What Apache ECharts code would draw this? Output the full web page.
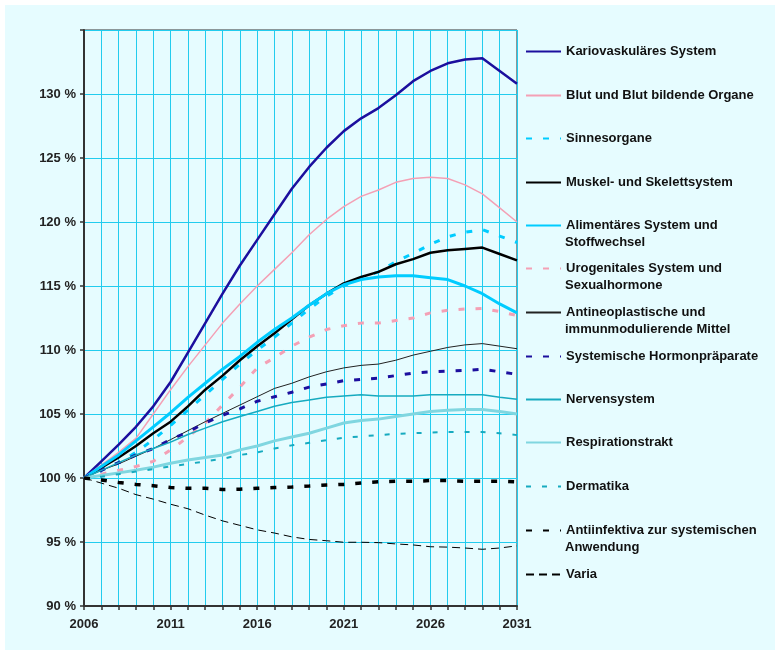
<!DOCTYPE html>
<html>
<head>
<meta charset="utf-8">
<script src="https://cdn.jsdelivr.net/npm/echarts@6/dist/echarts.min.js"></script>
<style>
  html, body { margin: 0; padding: 0; background: #fff; }
  #chart { width: 780px; height: 654px; }
</style>
</head>
<body>
<div id="chart"></div>
<script>
const years = ['2006', '2007', '2008', '2009', '2010', '2011', '2012', '2013', '2014', '2015', '2016', '2017', '2018',
  '2019', '2020', '2021', '2022', '2023', '2024', '2025', '2026', '2027', '2028', '2029', '2030', '2031']

const kario = [100, 101.3, 102.6, 104.0, 105.6, 107.5, 109.8, 112.1, 114.4, 116.6, 118.6, 120.6, 122.6,
  124.3, 125.8, 127.1, 128.1, 128.9, 129.9, 131.0, 131.8, 132.4, 132.7, 132.8, 131.8, 130.8]
const blut = [100, 101.0, 102.0, 103.1, 105.0, 106.9, 108.7, 110.4, 112.1, 113.6, 115.0, 116.3, 117.6,
  119.0, 120.2, 121.2, 122.0, 122.5, 123.1, 123.4, 123.5, 123.4, 122.9, 122.2, 121.1, 120.0]
const sinne = [100, 100.6, 101.2, 102.0, 103.0, 104.1, 105.3, 106.5, 107.7, 108.9, 110.0, 111.0, 112.1,
  113.2, 114.2, 115.0, 115.6, 116.1, 116.9, 117.55, 118.25, 118.85, 119.2, 119.4, 118.9, 118.4]
const muskel = [100, 100.8, 101.6, 102.5, 103.5, 104.4, 105.6, 106.9, 108.0, 109.2, 110.3, 111.3, 112.4,
  113.5, 114.4, 115.2, 115.7, 116.1, 116.7, 117.1, 117.6, 117.8, 117.9, 118.0, 117.5, 117.0]
const alim = [100, 100.9, 101.8, 102.9, 104.0, 105.1, 106.3, 107.4, 108.5, 109.5, 110.6, 111.6, 112.5,
  113.5, 114.4, 115.1, 115.5, 115.7, 115.8, 115.8, 115.65, 115.5, 115.0, 114.4, 113.6, 112.9]
const urog = [100, 100.3, 100.6, 100.9, 101.3, 102.2, 103.2, 104.3, 105.7, 107.1, 108.6, 109.4, 110.3,
  111.0, 111.6, 111.9, 112.1, 112.1, 112.3, 112.5, 112.9, 113.1, 113.2, 113.25, 113.0, 112.7]
const antineo = [100, 100.6, 101.1, 101.7, 102.3, 103.0, 103.7, 104.4, 105.05, 105.7, 106.35, 107.0, 107.4,
  107.9, 108.3, 108.6, 108.8, 108.9, 109.2, 109.6, 109.9, 110.2, 110.4, 110.5, 110.3, 110.1]
const hormon = [100, 100.6, 101.2, 101.8, 102.3, 103.0, 103.6, 104.3, 104.9, 105.4, 106.0, 106.35, 106.7,
  107.1, 107.35, 107.6, 107.7, 107.8, 108.0, 108.2, 108.3, 108.35, 108.4, 108.5, 108.3, 108.1]
const nerven = [100, 100.6, 101.2, 101.8, 102.3, 102.8, 103.4, 103.9, 104.4, 104.8, 105.2, 105.6, 105.9,
  106.1, 106.3, 106.4, 106.5, 106.4, 106.4, 106.4, 106.5, 106.5, 106.5, 106.5, 106.3, 106.15]
const resp = [100, 100.2, 100.4, 100.6, 100.85, 101.15, 101.4, 101.6, 101.8, 102.2, 102.5, 102.9, 103.2,
  103.5, 103.9, 104.3, 104.5, 104.6, 104.8, 105.0, 105.2, 105.3, 105.35, 105.35, 105.2, 105.0]
const derm = [100, 100.1, 100.3, 100.5, 100.7, 100.9, 101.1, 101.3, 101.5, 101.8, 102.0, 102.3, 102.55,
  102.75, 102.95, 103.15, 103.25, 103.35, 103.45, 103.5, 103.55, 103.6, 103.6, 103.6, 103.5, 103.35]
const antiinf = [100, 99.85, 99.65, 99.5, 99.4, 99.25, 99.2, 99.2, 99.1, 99.12, 99.2, 99.25, 99.3,
  99.37, 99.45, 99.5, 99.6, 99.7, 99.74, 99.74, 99.8, 99.8, 99.75, 99.75, 99.75, 99.7]
const varia = [100, 99.6, 99.2, 98.7, 98.35, 97.95, 97.6, 97.1, 96.65, 96.3, 95.95, 95.7, 95.4,
  95.2, 95.1, 94.98, 94.98, 94.95, 94.85, 94.77, 94.63, 94.6, 94.53, 94.43, 94.53, 94.7]

const FONT = 'Arial, "Liberation Sans", sans-serif'
const DARK_BLUE = '#1c0f9e'
const PINK = '#f4a0b5'
const CYAN = '#00ccff'
const TEAL = '#17aabf'

// name, second legend line, data, colour, width, dash
const seriesDefs = [
  ['Kariovaskuläres System', '', kario, DARK_BLUE, 2.5, 'solid'],
  ['Blut und Blut bildende Organe', '', blut, PINK, 1.5, 'solid'],
  ['Sinnesorgane', '', sinne, CYAN, 3, [6, 11]],
  ['Muskel- und Skelettsystem', '', muskel, '#000', 2.5, 'solid'],
  ['Alimentäres System und', 'Stoffwechsel', alim, CYAN, 3, 'solid'],
  ['Urogenitales System und', 'Sexualhormone', urog, PINK, 3, [6, 11]],
  ['Antineoplastische und', 'immunmodulierende Mittel', antineo, '#222', 1, 'solid'],
  ['Systemische Hormonpräparate', '', hormon, DARK_BLUE, 3, [6, 11]],
  ['Nervensystem', '', nerven, TEAL, 1.5, 'solid'],
  ['Respirationstrakt', '', resp, '#80d6e0', 3, 'solid'],
  ['Dermatika', '', derm, TEAL, 2, [5, 11]],
  ['Antiinfektiva zur systemischen', 'Anwendung', antiinf, '#000', 3.5, [6, 11]],
  ['Varia', '', varia, '#000', 1, [8, 5]]
]

const legendRows = [53, 97, 140, 184, 227, 270, 314, 358, 401, 444, 488, 532, 576]

const series = seriesDefs.map(([name, , data, color, width, type]) => ({
  name,
  type: 'line',
  data,
  symbol: 'none',
  color,
  lineStyle: { color, width, type },
  z: 3
}))

const legends = seriesDefs.map(([name], i) => ({
  data: [name],
  left: 525,
  top: legendRows[i] - 8,
  padding: 0,
  itemWidth: 35,
  itemHeight: 16,
  selectedMode: false,
  itemStyle: { color: 'transparent', borderWidth: 0, opacity: 0 },
  textStyle: { fontFamily: FONT, fontSize: 13, fontWeight: 'bold', color: '#111' }
}))

const secondLines = []
seriesDefs.forEach(([, second], i) => {
  if (!second) return
  secondLines.push({
    type: 'text',
    left: 565,
    top: legendRows[i] + 9,
    style: { text: second, font: `bold 13px ${FONT}`, fill: '#111' }
  })
})

const chart = echarts.init(document.getElementById('chart'))
chart.setOption({
  animation: false,
  backgroundColor: '#fff',
  graphic: [
    { type: 'rect', left: 5, top: 5, shape: { width: 770, height: 645 }, style: { fill: '#e6fcff' }, z: -10 },
    ...secondLines
  ],
  grid: { left: 84, top: 30, right: 263, bottom: 48, show: true, borderColor: '#333', borderWidth: 1 },
  legend: legends,
  xAxis: {
    type: 'category',
    data: years,
    boundaryGap: false,
    axisLine: { lineStyle: { color: '#333', width: 2 } },
    axisTick: { show: true, interval: 0, length: 4, lineStyle: { color: '#333', width: 1.5 } },
    axisLabel: { interval: 4, margin: 12, fontFamily: FONT, fontSize: 13, fontWeight: 'bold', color: '#222' },
    splitLine: { show: true, interval: 0, lineStyle: { color: '#22ccee', width: 1 } }
  },
  yAxis: {
    type: 'value',
    min: 90,
    max: 135,
    interval: 5,
    axisLine: { show: true, lineStyle: { color: '#333', width: 2 } },
    axisTick: { show: true, length: 4, lineStyle: { color: '#333', width: 1.5 } },
    axisLabel: {
      margin: 8,
      fontFamily: FONT,
      fontSize: 13,
      fontWeight: 'bold',
      color: '#222',
      formatter: (v) => (v === 135 ? '' : `${v} %`)
    },
    splitLine: { show: true, lineStyle: { color: '#22ccee', width: 1 } }
  },
  series
})
</script>
</body>
</html>
